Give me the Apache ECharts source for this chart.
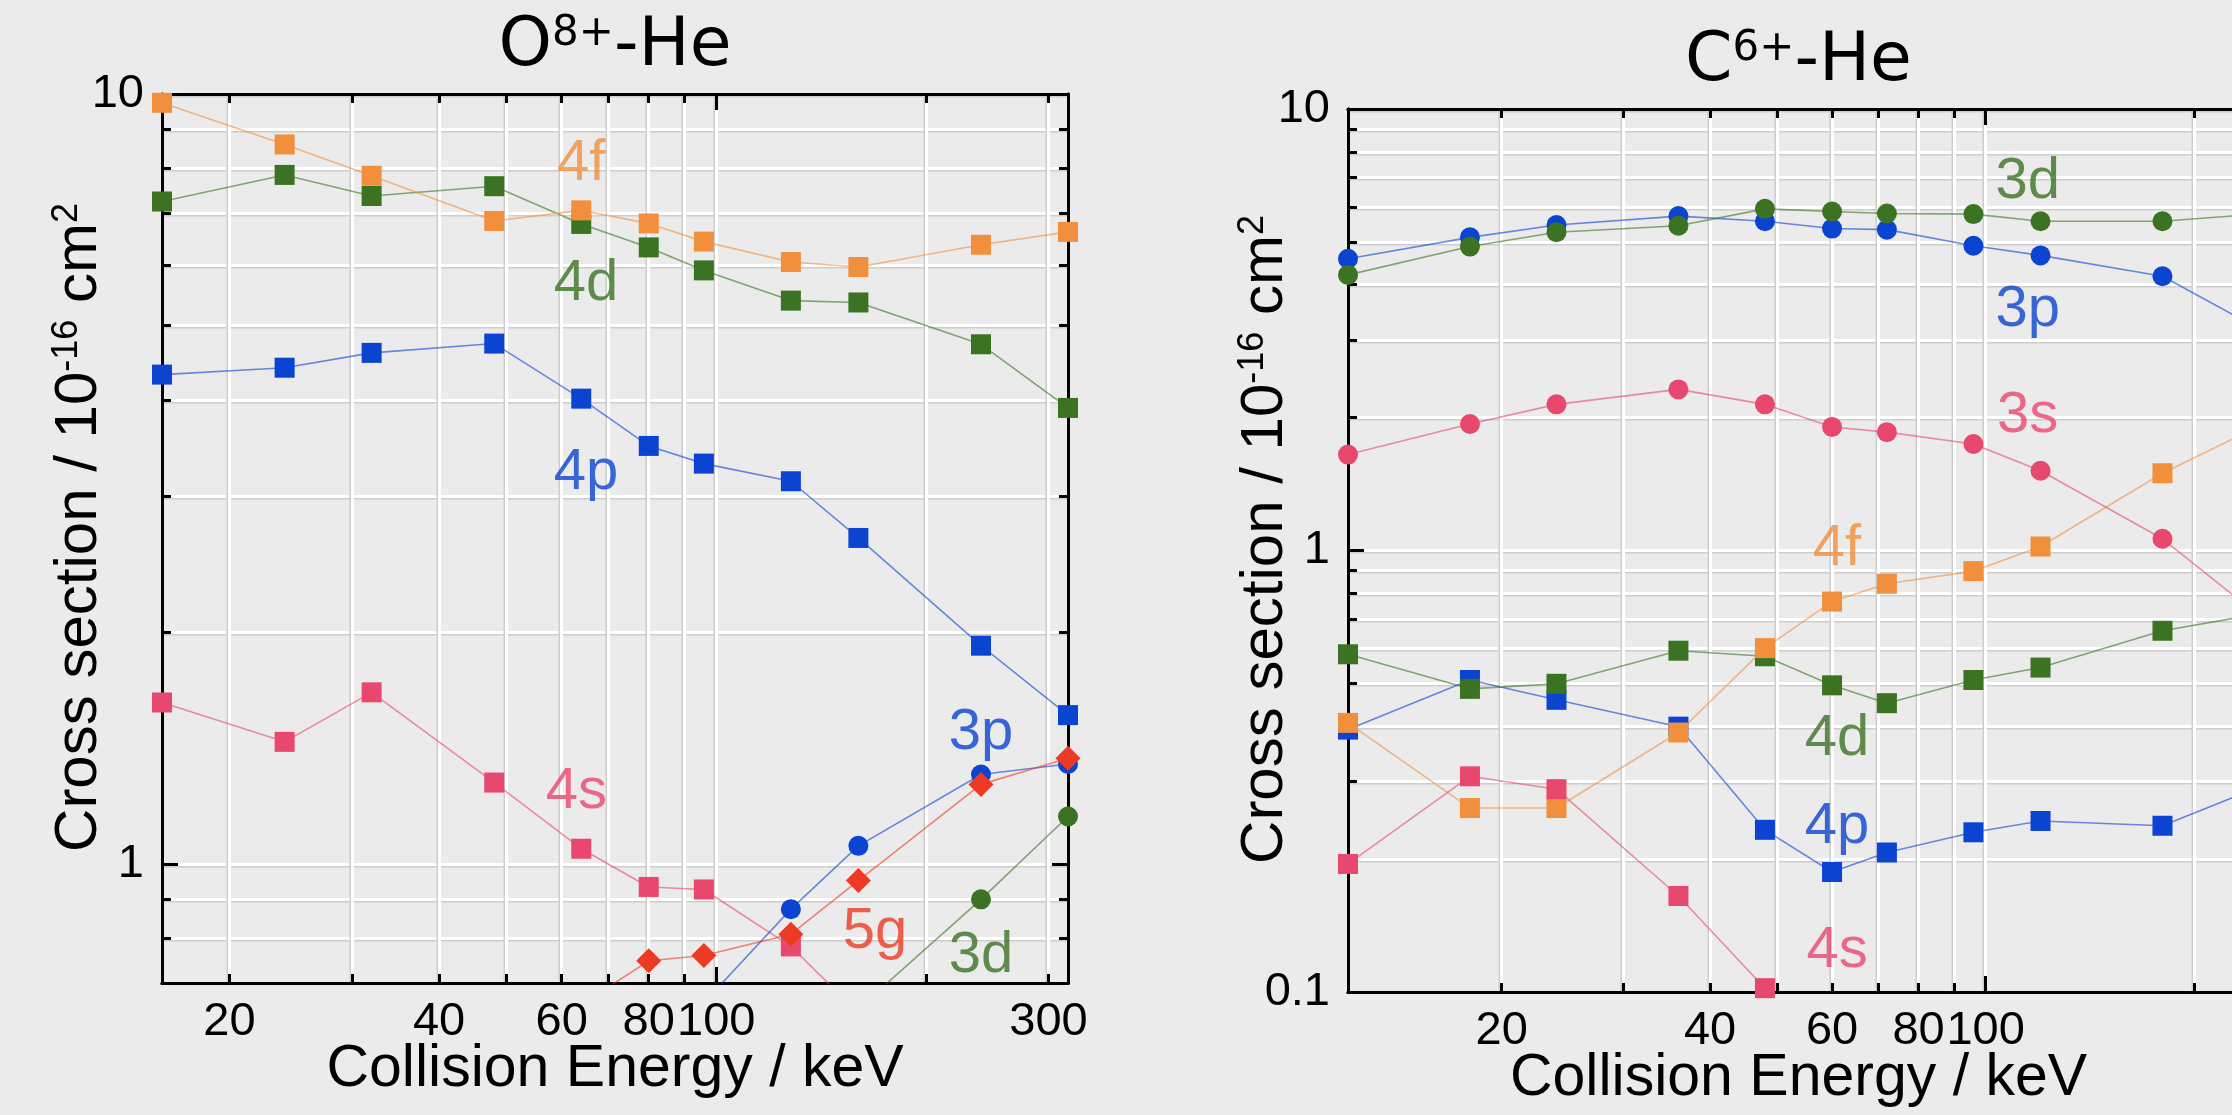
<!DOCTYPE html>
<html><head><meta charset="utf-8">
<script src="https://cdn.jsdelivr.net/npm/echarts@6/dist/echarts.min.js"></script>
<style>html,body{margin:0;padding:0;background:#ebebeb}#c{width:2232px;height:1115px}</style>
</head><body><div id="c"></div>
<script>
// ---------- data: O8+ - He (left panel) ----------
const oEnergy = [16, 24, 32, 48, 64, 80, 96, 128, 160, 240, 320];
const o4f = [9.74, 8.60, 7.83, 6.84, 7.06, 6.79, 6.43, 6.05, 5.96, 6.37, 6.62];
const o4d = [7.25, 7.85, 7.37, 7.59, 6.78, 6.32, 5.90, 5.39, 5.36, 4.73, 3.91];
const o4p = [4.32, 4.41, 4.61, 4.74, 4.02, 3.49, 3.31, 3.14, 2.65, 1.92, 1.56];
const o4s = [1.62, 1.44, 1.67, 1.275, 1.046, 0.933, 0.926, 0.781, 0.64, null, null];
const o3p = [null, null, null, null, null, null, 0.66, 0.873, 1.055, 1.306, 1.348];
const o5g = [null, null, null, null, 0.656, 0.748, 0.760, 0.810, 0.951, 1.268, 1.371];
const o3d = [null, null, null, null, null, null, null, null, 0.648, 0.899, 1.152];

// ---------- data: C6+ - He (right panel) ----------
const cEnergy = [12, 18, 24, 36, 48, 60, 72, 96, 120, 180, 240];
const c3d = [4.21, 4.88, 5.26, 5.44, 5.94, 5.86, 5.80, 5.78, 5.57, 5.57, 5.76];
const c3p = [4.58, 5.12, 5.46, 5.72, 5.57, 5.36, 5.33, 4.90, 4.66, 4.18, 3.27];
const c3s = [1.649, 1.934, 2.143, 2.317, 2.143, 1.905, 1.854, 1.743, 1.516, 1.063, 0.742];
const c4f = [0.407, 0.261, 0.261, 0.387, 0.601, 0.766, 0.841, 0.898, 1.021, 1.496, 1.865];
const c4d = [0.582, 0.486, 0.499, 0.593, 0.576, 0.495, 0.451, 0.509, 0.543, 0.658, 0.712];
const c4p = [0.393, 0.509, 0.459, 0.399, 0.233, 0.187, 0.207, 0.230, 0.244, 0.238, 0.285];
const c4s = [0.195, 0.308, 0.288, 0.165, 0.102, null, null, null, null, null, null];

// ---------- in-plot state labels ----------
const oNoteText = ['4f', '4d', '4p', '4s', '5g', '3p', '3d'];
const oNoteX = [64, 65, 65, 63, 169, 240, 240];
const oNoteY = [8.11, 5.67, 3.22, 1.24, 0.815, 1.48, 0.76];
const cNoteText = ['3d', '3p', '3s', '4f', '4d', '4p', '4s'];
const cNoteX = [115, 115, 115, 61, 61, 61, 61];
const cNoteY = [6.83, 3.51, 2.02, 1.01, 0.374, 0.237, 0.124];

// ---------- ticks / labels ----------
const oXTicks = [20, 30, 40, 50, 60, 70, 80, 90, 100, 200, 300];
const cXTicks = [20, 30, 40, 50, 60, 70, 80, 90, 100, 200];
const xMajor = [100];
const xLabels = [20, 40, 60, 80, 100, 300];
const oYTicks = [0.8, 0.9, 1, 2, 3, 4, 5, 6, 7, 8, 9, 10];
const oYMajor = [1, 10];
const oYLabels = [1, 10];
const cYTicks = [0.2, 0.3, 0.4, 0.5, 0.6, 0.7, 0.8, 0.9, 1, 2, 3, 4, 5, 6, 7, 8, 9, 10];
const cYMajor = [0.1, 1, 10];
const cYLabels = [0.1, 1, 10];

const FONT = '"Liberation Sans", Arial, Helvetica, sans-serif';
const TFONT = '"DejaVu Sans", "Liberation Sans", sans-serif';
const COLORS = {s: '#e8476e', p: '#0a44d1', d: '#3b7323', f: '#f18f3c', g: '#ec3a24'};
const colorOf = st => COLORS[st.slice(-1)];

const gridSplit = (horizontal) => ({show: true, lineStyle: {color: '#ffffff', width: 3,
  shadowColor: '#cdcdcd', shadowBlur: 0,
  shadowOffsetX: horizontal ? 0 : -1.5, shadowOffsetY: horizontal ? 1.5 : 0}});

function xAx(gi, min, max, pos, ticks, len, labels, split, name, nameGap, nameStyle) {
  return {
    type: 'log', logBase: 10, gridIndex: gi, min: min, max: max, position: pos,
    axisLine: {show: true, onZero: false, lineStyle: {color: '#000', width: 3}},
    axisTick: {show: true, inside: true, length: len, customValues: ticks, lineStyle: {color: '#000', width: 3}},
    axisLabel: labels ? {show: true, customValues: labels, margin: 16, color: '#000', fontSize: 47,
      fontFamily: FONT, lineHeight: 47} : {show: false},
    splitLine: split ? gridSplit(false) : {show: false},
    minorTick: {show: false}, minorSplitLine: {show: false},
    name: name || '', nameLocation: 'middle', nameGap: nameGap || 0, nameTextStyle: nameStyle || {},
    nameMoveOverlap: false, silent: true, z: 3
  };
}
function yAx(gi, min, max, pos, ticks, len, labels, split, name) {
  return {
    type: 'log', logBase: 10, gridIndex: gi, min: min, max: max, position: pos,
    axisLine: {show: true, onZero: false, lineStyle: {color: '#000', width: 3}},
    axisTick: {show: true, inside: true, length: len, customValues: ticks, lineStyle: {color: '#000', width: 3}},
    axisLabel: labels ? {show: true, customValues: labels, margin: 18, color: '#000', fontSize: 47,
      fontFamily: FONT, lineHeight: 47, padding: [0, 0, 10, 0]} : {show: false},
    splitLine: split ? gridSplit(true) : {show: false},
    minorTick: {show: false}, minorSplitLine: {show: false},
    name: name || '', nameLocation: 'middle', nameGap: 53, nameRotate: 90,
    nameTextStyle: name ? {color: '#000', fontSize: 60, fontFamily: FONT, lineHeight: 60,
      padding: [0, 0, 0, 22],
      rich: {s: {fontSize: 36, lineHeight: 36, verticalAlign: 'top', fontFamily: FONT, color: '#000'}}} : {},
    nameMoveOverlap: false, silent: true, z: 3
  };
}
const titleStyle = {color: '#000', fontSize: 68, fontFamily: TFONT, lineHeight: 68,
  rich: {a: {fontSize: 68, lineHeight: 68, fontFamily: TFONT, color: '#000'},
         s: {fontSize: 42, lineHeight: 42, verticalAlign: 'top', fontFamily: TFONT, color: '#000'}}};
const xNameStyle = {color: '#000', fontSize: 59, fontFamily: FONT, lineHeight: 59};
const yName = 'Cross section / 10{s|-16} cm{s|2}';

function lineSeries(state, xs, ys, symbol, size, axisIdx) {
  const color = colorOf(state);
  return {
    type: 'line', name: state, xAxisIndex: axisIdx, yAxisIndex: axisIdx,
    data: xs.map((x, i) => [x, ys[i]]),
    symbol: symbol, symbolSize: size, showAllSymbol: true, connectNulls: false,
    itemStyle: {color: color, opacity: 1},
    lineStyle: {color: color, width: 1.6, opacity: 0.6},
    clip: true, silent: true, z: 4
  };
}
function notes(texts, xs, ys, axisIdx) {
  return {
    type: 'scatter', xAxisIndex: axisIdx, yAxisIndex: axisIdx, symbolSize: 1, silent: true, z: 6,
    itemStyle: {color: 'rgba(0,0,0,0)'},
    data: texts.map((t, i) => ({name: t, value: [xs[i], ys[i]], label: {color: colorOf(t)}})),
    label: {show: true, position: 'inside', formatter: '{b}', fontSize: 58, fontFamily: FONT}
  };
}

const chart = echarts.init(document.getElementById('c'), null, {renderer: 'canvas'});
chart.setOption({
  animation: false,
  backgroundColor: '#ebebeb',
  grid: [
    {left: 162, top: 94, width: 906, height: 889, containLabel: false, outerBoundsMode: 'none'},
    {left: 1348, top: 109, width: 901, height: 883, containLabel: false, outerBoundsMode: 'none'}
  ],
  xAxis: [
    xAx(0, 16, 320, 'bottom', oXTicks, 9, xLabels, true, 'Collision Energy / keV', 57, xNameStyle),
    xAx(0, 16, 320, 'top', oXTicks, 9, null, false, '{a|O}{s|8+}{a|-He}', 13, titleStyle),
    xAx(0, 16, 320, 'bottom', xMajor, 16, null, false),
    xAx(0, 16, 320, 'top', xMajor, 16, null, false),
    xAx(1, 12, 240, 'bottom', cXTicks, 9, xLabels, true, 'Collision Energy / keV', 57, xNameStyle),
    xAx(1, 12, 240, 'top', cXTicks, 9, null, false, '{a|C}{s|6+}{a|-He}', 13, titleStyle),
    xAx(1, 12, 240, 'bottom', xMajor, 16, null, false),
    xAx(1, 12, 240, 'top', xMajor, 16, null, false)
  ],
  yAxis: [
    yAx(0, 0.7, 10, 'left', oYTicks, 9, oYLabels, true, yName),
    yAx(0, 0.7, 10, 'right', oYTicks, 9, null, false),
    yAx(0, 0.7, 10, 'left', oYMajor, 16, null, false),
    yAx(0, 0.7, 10, 'right', oYMajor, 16, null, false),
    yAx(1, 0.1, 10, 'left', cYTicks, 9, cYLabels, true, yName),
    yAx(1, 0.1, 10, 'right', cYTicks, 9, null, false),
    yAx(1, 0.1, 10, 'left', cYMajor, 16, null, false),
    yAx(1, 0.1, 10, 'right', cYMajor, 16, null, false)
  ],
  series: [
    lineSeries('4d', oEnergy, o4d, 'rect', 20, 0),
    lineSeries('4f', oEnergy, o4f, 'rect', 20, 0),
    lineSeries('4p', oEnergy, o4p, 'rect', 20, 0),
    lineSeries('4s', oEnergy, o4s, 'rect', 20, 0),
    lineSeries('3p', oEnergy, o3p, 'circle', 20, 0),
    lineSeries('3d', oEnergy, o3d, 'circle', 20, 0),
    lineSeries('5g', oEnergy, o5g, 'diamond', 25, 0),
    notes(oNoteText, oNoteX, oNoteY, 0),
    lineSeries('4p', cEnergy, c4p, 'rect', 20, 4),
    lineSeries('4d', cEnergy, c4d, 'rect', 20, 4),
    lineSeries('4f', cEnergy, c4f, 'rect', 20, 4),
    lineSeries('4s', cEnergy, c4s, 'rect', 20, 4),
    lineSeries('3s', cEnergy, c3s, 'circle', 20, 4),
    lineSeries('3p', cEnergy, c3p, 'circle', 20, 4),
    lineSeries('3d', cEnergy, c3d, 'circle', 20, 4),
    notes(cNoteText, cNoteX, cNoteY, 4)
  ]
});
</script>
</body></html>
